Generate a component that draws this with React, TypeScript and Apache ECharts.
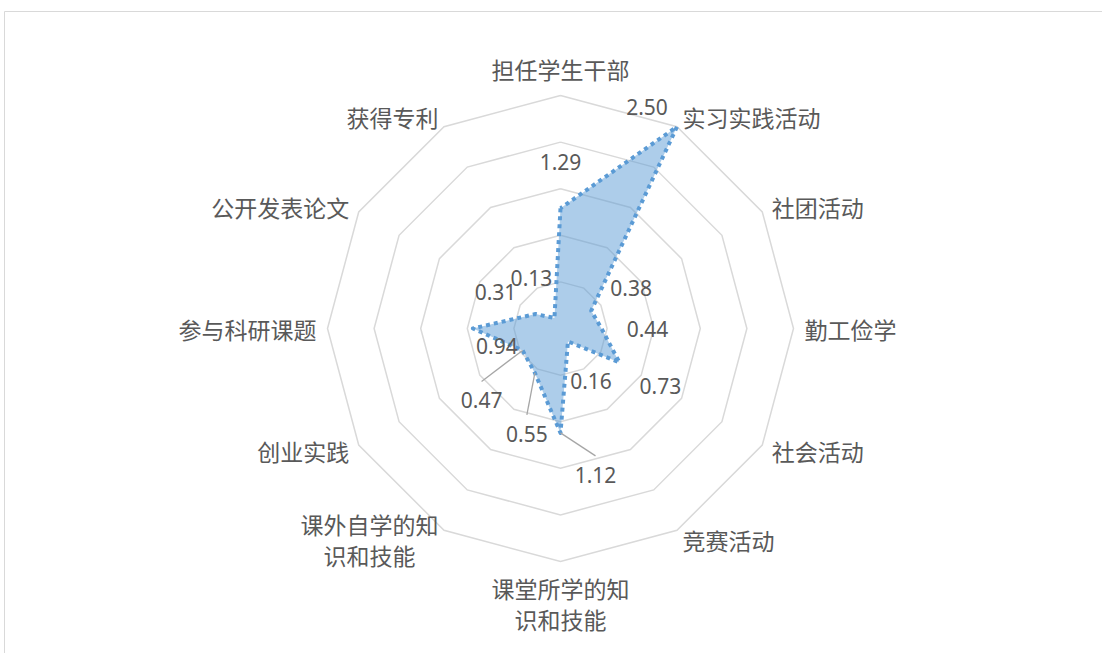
import React, { useEffect, useRef } from "react";
import * as echarts from "echarts";

// Categories, clockwise from the top
const categories: string[] = [
  "担任学生干部",
  "实习实践活动",
  "社团活动",
  "勤工俭学",
  "社会活动",
  "竞赛活动",
  "课堂所学的知\n识和技能",
  "课外自学的知\n识和技能",
  "创业实践",
  "参与科研课题",
  "公开发表论文",
  "获得专利",
];

// Series values, same order
const values: number[] = [1.29, 2.5, 0.38, 0.44, 0.73, 0.16, 1.12, 0.55, 0.47, 0.94, 0.31, 0.13];

// Axis scale
const axisMin = 0;
const axisMax = 2.5;
const ringCount = 5;

// Data-label shifts (px) from each vertex, as placed in the original
const labelShift: [number, number][] = [
  [0, -46],
  [-30, -20],
  [40, -23],
  [46, 0],
  [41, 23],
  [23, 40],
  [35, 42],
  [-8, 61],
  [-41, 50],
  [24, 17],
  [-40, -22],
  [-23, -40],
];
// Labels that were dragged away and carry a leader line
const leaderLineIdx: number[] = [6, 7, 8];

const NAME_SIZE = 23;
const VALUE_SIZE = 21;

export default function App() {
  const ref = useRef<HTMLDivElement>(null);

  useEffect(() => {
    if (!ref.current) return;
    const chart = echarts.init(ref.current, null, { renderer: "svg" });
    const n = categories.length;
    // ECharts radar runs counter-clockwise: reorder so categories run clockwise
    const order = categories.map((_, i) => (i === 0 ? 0 : n - i));
    const center = [560.5, 328.5];
    const radius = 233;

    chart.setOption({
      animation: false,
      backgroundColor: "#ffffff",
      graphic: [
        {
          type: "rect",
          silent: true,
          z: -10,
          shape: { x: 4.5, y: 11.5, width: 1400, height: 1000 },
          style: { fill: "none", stroke: "#d9d9d9", lineWidth: 1 },
        },
      ],
      radar: {
        center,
        radius,
        startAngle: 90,
        splitNumber: ringCount,
        shape: "polygon",
        nameGap: 11,
        indicator: order.map((i) => ({ name: categories[i], min: axisMin, max: axisMax })),
        axisName: {
          color: "#595959",
          fontSize: NAME_SIZE,
          lineHeight: 31,
          fontFamily: '"Noto Sans CJK SC", sans-serif',
          formatter: (name: string) => {
            if (name.indexOf("\n") < 0) return name;
            return name
              .split("\n")
              .map((line) => `{c|${line}}`)
              .join("\n");
          },
          rich: {
            c: {
              width: NAME_SIZE * 6,
              align: "center",
              color: "#595959",
              fontSize: NAME_SIZE,
              lineHeight: 31,
              fontFamily: '"Noto Sans CJK SC", sans-serif',
            },
          },
        },
        splitLine: { lineStyle: { color: "#d9d9d9", width: 1.5 } },
        splitArea: { show: false },
        axisLine: { show: false },
        axisTick: { show: false },
        axisLabel: { show: false },
      },
      polar: { center, radius },
      angleAxis: {
        type: "category",
        data: categories,
        startAngle: 90,
        clockwise: true,
        boundaryGap: false,
        show: false,
      },
      radiusAxis: { min: axisMin, max: axisMax, show: false },
      series: [
        {
          type: "radar",
          symbol: "none",
          silent: true,
          lineStyle: { color: "#5B9BD5", width: 4, type: "dotted", cap: "butt" },
          areaStyle: { color: "#5B9BD5", opacity: 0.5 },
          data: [{ value: order.map((i) => values[i]) }],
        },
        {
          // data labels (and leader lines) placed on a matching polar system
          type: "custom",
          coordinateSystem: "polar",
          silent: true,
          z: 5,
          data: values.map((v, i) => [v, i]),
          renderItem: (params: any, api: any) => {
            const i = params.dataIndex;
            const p = api.coord([api.value(0), i]);
            const cx = p[0] + labelShift[i][0];
            const cy = p[1] + labelShift[i][1];
            const children: any[] = [];
            if (leaderLineIdx.includes(i)) {
              children.push({
                type: "line",
                shape: { x1: p[0], y1: p[1], x2: cx, y2: cy - 19 },
                style: { stroke: "#a6a6a6", lineWidth: 1.3 },
              });
            }
            children.push({
              type: "text",
              x: cx,
              y: cy,
              style: {
                text: values[i].toFixed(2),
                align: "center",
                verticalAlign: "middle",
                fill: "#595959",
                fontSize: VALUE_SIZE,
                fontFamily: '"Noto Sans", sans-serif',
              },
            });
            return { type: "group", children };
          },
        },
      ],
    });

    return () => chart.dispose();
  }, []);

  return (
    <div
      ref={ref}
      style={{ position: "absolute", left: 0, top: 0, width: 1102, height: 653 }}
    />
  );
}
